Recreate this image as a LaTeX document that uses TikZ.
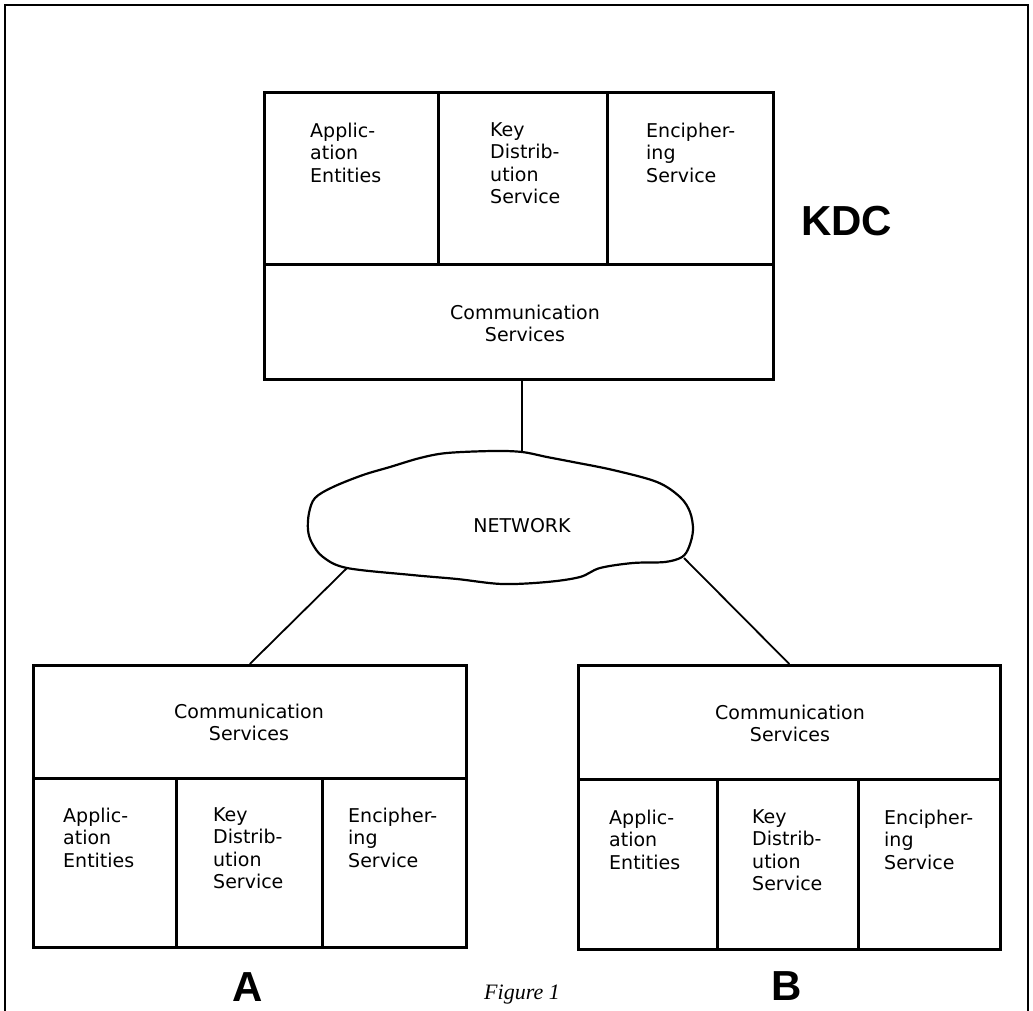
\documentclass[tikz,border=0pt]{standalone}
\usepackage{fontspec}
\newfontfamily\labfont{DejaVu Sans}
\newfontfamily\bigfont{Liberation Sans}
\newfontfamily\figfont{Liberation Serif}
\begin{document}
\begin{tikzpicture}[x=1pt,y=-1pt,
  cell/.style={draw, line width=2.6pt, inner sep=0pt, anchor=north west},
  celltext/.style={inner sep=0pt, anchor=north west, align=left,
    font=\labfont\fontsize{19}{22.5}\selectfont},
  comtext/.style={inner sep=0pt, anchor=north, align=center,
    font=\labfont\fontsize{19}{22.5}\selectfont},
  biglabel/.style={inner sep=0pt, anchor=base, font=\bigfont\bfseries\fontsize{42}{42}\selectfont},
  link/.style={line width=1.8pt},
  frame/.style={line width=1.8pt}]
\useasboundingbox (0,0) rectangle (1033,1011);
% outer frame (open at the bottom)
\draw[frame] (5,1011) -- (5,5) -- (1028,5) -- (1028,1011);

% KDC
\node[cell, minimum width=174pt, minimum height=172pt] (kdcApp) at (263,91) {};
\node[cell, minimum width=169pt, minimum height=172pt] (kdcKey) at (437,91) {};
\node[cell, minimum width=166pt, minimum height=172pt] (kdcEnc) at (606,91) {};
\node[cell, minimum width=509pt, minimum height=115pt] (kdcCom) at (263,263) {};
\node[celltext] (kdcAppT) at (310,122.4) {Applic-\\ation\\Entities};
\node[celltext] (kdcKeyT) at (490,122.4) {Key\\Distrib-\\ution\\Service};
\node[celltext] (kdcEncT) at (646,122.4) {Encipher-\\ing\\Service};
\node[comtext] (kdcComT) at (525,304.4) {Communication\\Services};
\node[biglabel, anchor=base west] (kdc) at (801,235) {KDC};

% A
\node[cell, minimum width=433pt, minimum height=113pt] (aCom) at (32,664) {};
\node[cell, minimum width=143pt, minimum height=169pt] (aApp) at (32,777) {};
\node[cell, minimum width=146pt, minimum height=169pt] (aKey) at (175,777) {};
\node[cell, minimum width=144pt, minimum height=169pt] (aEnc) at (321,777) {};
\node[comtext] (aComT) at (249,703.4) {Communication\\Services};
\node[celltext] (aAppT) at (63,807.4) {Applic-\\ation\\Entities};
\node[celltext] (aKeyT) at (213,807.4) {Key\\Distrib-\\ution\\Service};
\node[celltext] (aEncT) at (348,807.4) {Encipher-\\ing\\Service};
\node[biglabel] (aLab) at (248,1001) {A};

% B
\node[cell, minimum width=422pt, minimum height=114pt] (bCom) at (577,664) {};
\node[cell, minimum width=139pt, minimum height=170pt] (bApp) at (577,778) {};
\node[cell, minimum width=141pt, minimum height=170pt] (bKey) at (716,778) {};
\node[cell, minimum width=142pt, minimum height=170pt] (bEnc) at (857,778) {};
\node[comtext] (bComT) at (790,704.4) {Communication\\Services};
\node[celltext] (bAppT) at (609,809.4) {Applic-\\ation\\Entities};
\node[celltext] (bKeyT) at (752,809.4) {Key\\Distrib-\\ution\\Service};
\node[celltext] (bEncT) at (884,809.4) {Encipher-\\ing\\Service};
\node[biglabel] (bLab) at (787,1000) {B};

% caption
\node[inner sep=0pt, anchor=base, font=\figfont\itshape\fontsize{22}{22}\selectfont] (cap) at (522,999) {Figure 1};

% network cloud
\draw[line width=2.2pt] plot[smooth cycle, tension=0.55] coordinates {
 (522,452) (547,457) (573,462) (613,470) (657,482) (680,497) (690,512)
 (693,530) (689,547) (682,557) (665,562) (633,563) (600,568) (580,577)
 (547,582) (502,584) (457,579) (412,575) (347,568) (323,557) (312,543)
 (308,530) (309,513) (315,498) (333,487) (363,475) (390,467) (420,458)
 (447,453) (493,451)};
\node[inner sep=0pt, font=\labfont\fontsize{19}{22.5}\selectfont] (net) at (522,526) {NETWORK};
\coordinate (cTop) at (522,452);
\coordinate (cLeft) at (347,568);
\coordinate (cRight) at (684,558);

% connectors
\draw[link] (cTop |- kdcCom.south) -- (cTop);
\draw[link] (cLeft) -- (aCom.north);
\draw[link] (cRight) -- (bCom.north);
\end{tikzpicture}
\end{document}
